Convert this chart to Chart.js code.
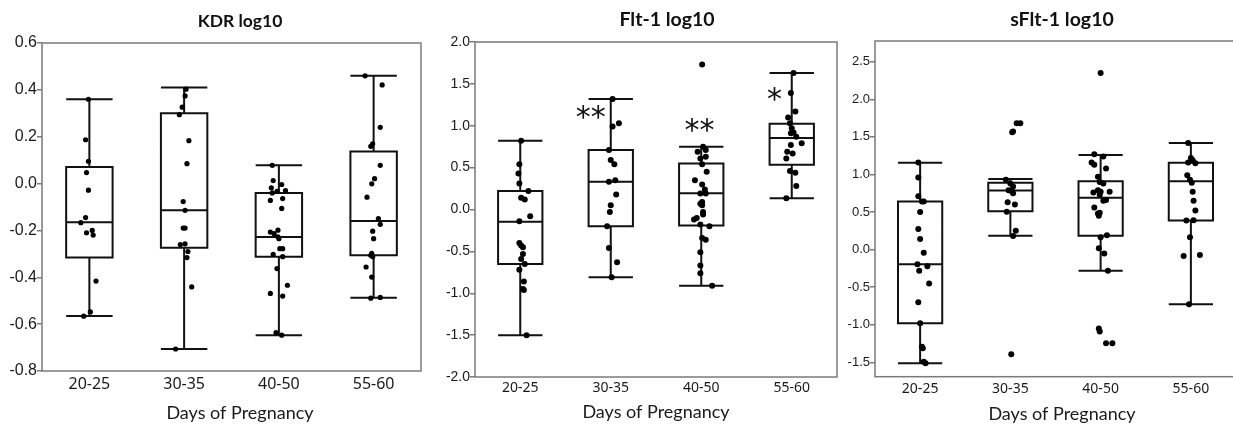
<!DOCTYPE html>
<html>
<head>
<meta charset="utf-8">
<script src="https://cdn.jsdelivr.net/npm/chart.js@4.4.1/dist/chart.umd.min.js"></script>
<style>
    html, body { margin: 0; padding: 0; background: #fff; }
    body { position: relative; width: 1233px; height: 426px; overflow: hidden; }
    canvas { position: absolute; top: 0; }
</style>
</head>
<body>
<canvas id="kdrChart" width="480" height="426" style="left:0px"></canvas>
<canvas id="fltChart" width="470" height="426" style="left:432px"></canvas>
<canvas id="sfltChart" width="454" height="426" style="left:835px"></canvas>
<script>
// Categorias (dias de gestação)
const categories = ['20-25', '30-35', '40-50', '55-60'];

// KDR log10
const kdrTicks = [-0.8, -0.6, -0.4, -0.2, 0, 0.2, 0.4, 0.6];
const kdrWhiskHi = [0.36, 0.41, 0.078, 0.46];
const kdrQ3 = [0.071, 0.30, -0.04, 0.137];
const kdrMedian = [-0.165, -0.114, -0.228, -0.16];
const kdrQ1 = [-0.316, -0.274, -0.312, -0.306];
const kdrWhiskLo = [-0.565, -0.706, -0.647, -0.487];
const kdrValues = [
    [0.36, 0.187, 0.095, 0.047, -0.028, -0.145, -0.167, -0.21, -0.20, -0.22, -0.416, -0.548, -0.566],
    [0.403, 0.374, 0.326, 0.294, 0.183, 0.085, -0.077, -0.114, -0.19, -0.19, -0.26, -0.257, -0.29, -0.316, -0.441, -0.706],
    [0.078, 0.013, -0.004, -0.018, -0.033, -0.03, -0.04, -0.072, -0.064, -0.106, -0.207, -0.214, -0.199, -0.227, -0.235, -0.278, -0.278, -0.302, -0.312, -0.363, -0.434, -0.469, -0.48, -0.636, -0.647],
    [0.46, 0.421, 0.24, 0.17, 0.159, 0.078, 0.021, -0.001, -0.058, -0.149, -0.174, -0.203, -0.235, -0.298, -0.306, -0.312, -0.356, -0.399, -0.489, -0.486]
];
const kdrJitter = [
    [-0.01, -0.04, -0.01, -0.03, -0.01, -0.04, -0.09, -0.03, 0.03, 0.04, 0.07, 0.01, -0.06],
    [0.02, 0.01, -0.02, -0.05, 0.05, 0.03, -0.01, 0.01, -0.01, 0.01, -0.04, 0.01, 0.04, 0.03, 0.08, -0.09],
    [-0.07, -0.06, 0.03, -0.08, -0.02, 0.07, -0.07, -0.09, 0.04, 0.03, -0.09, -0.05, -0.01, -0.01, 0, 0.01, 0.04, -0.06, 0.04, -0.02, 0.09, -0.09, 0.04, -0.03, 0.03],
    [-0.09, 0.09, 0.07, -0.01, -0.03, 0.07, 0.01, -0.02, -0.07, 0.05, 0.07, -0.01, 0, -0.02, -0.03, -0.01, -0.08, -0.02, -0.03, 0.07]
];

// Flt-1 log10
const fltTicks = [-2, -1.5, -1, -0.5, 0, 0.5, 1, 1.5, 2];
const fltWhiskHi = [0.82, 1.32, 0.75, 1.63];
const fltQ3 = [0.22, 0.71, 0.55, 1.025];
const fltMedian = [-0.145, 0.33, 0.195, 0.855];
const fltQ1 = [-0.65, -0.20, -0.19, 0.535];
const fltWhiskLo = [-1.50, -0.81, -0.91, 0.135];
const fltValues = [
    [0.82, 0.54, 0.43, 0.31, 0.22, 0.14, 0.12, -0.08, -0.14, -0.40, -0.43, -0.45, -0.53, -0.59, -0.65, -0.72, -0.86, -0.95, -0.96, -1.50],
    [1.32, 1.03, 0.99, 0.71, 0.59, 0.54, 0.33, 0.35, 0.18, 0.05, -0.03, -0.20, -0.46, -0.63, -0.81],
    [1.73, 0.75, 0.71, 0.69, 0.63, 0.61, 0.54, 0.45, 0.35, 0.30, 0.24, 0.19, 0.19, 0.09, 0.07, 0.05, -0.03, -0.06, -0.10, -0.12, -0.18, -0.20, -0.34, -0.36, -0.51, -0.67, -0.76, -0.91],
    [1.63, 1.39, 1.17, 1.10, 1.03, 0.97, 0.92, 0.91, 0.87, 0.79, 0.77, 0.69, 0.67, 0.61, 0.46, 0.44, 0.28, 0.135]
];
const fltJitter = [
    [0.01, -0.01, -0.02, -0.01, 0.09, 0.01, 0.05, 0.11, -0.01, -0.01, 0.01, 0.03, 0.03, 0.01, 0.05, -0.01, 0.04, 0.03, 0.04, 0.07],
    [0.02, 0.09, 0.02, -0.02, 0, 0.04, -0.02, 0.05, 0.06, 0, -0.01, -0.04, -0.02, 0.07, 0.01],
    [0.01, 0.02, 0.05, -0.04, 0.05, -0.01, 0.01, 0.06, -0.07, 0.01, 0.04, -0.01, 0.05, 0.01, -0.01, 0.01, 0.02, 0.02, -0.05, -0.08, -0.01, 0.09, 0.01, 0.05, -0.01, -0.01, -0.01, 0.12],
    [0.02, -0.01, 0.04, -0.04, -0.02, 0, 0.02, -0.01, 0.05, 0.11, -0.01, -0.05, 0.01, -0.06, -0.02, 0.04, 0.05, -0.06]
];
// Marcas de significância
const fltStars = ['', '**', '**', '*'];
const fltStarY = [null, 1.15, 1.0, 1.37];
const fltStarShift = [0, -0.22, -0.02, -0.19];

// sFlt-1 log10
const sfltTicks = [-1.5, -1, -0.5, 0, 0.5, 1, 1.5, 2, 2.5];
const sfltWhiskHi = [1.157, 0.94, 1.26, 1.42];
const sfltQ3 = [0.64, 0.89, 0.91, 1.157];
const sfltMedian = [-0.195, 0.785, 0.69, 0.91];
const sfltQ1 = [-0.98, 0.51, 0.186, 0.386];
const sfltWhiskLo = [-1.51, 0.186, -0.28, -0.726];
const sfltValues = [
    [1.16, 0.96, 0.71, 0.64, 0.64, 0.50, 0.275, 0.14, -0.04, -0.195, -0.28, -0.22, -0.45, -0.70, -0.98, -1.29, -1.31, -1.49, -1.51],
    [1.68, 1.68, 1.57, 1.56, 0.93, 0.88, 0.84, 0.79, 0.77, 0.75, 0.63, 0.60, 0.505, 0.25, 0.18, -1.39],
    [2.35, 1.27, 1.24, 1.16, 1.13, 1.08, 0.97, 0.90, 0.88, 0.79, 0.77, 0.77, 0.76, 0.73, 0.65, 0.66, 0.56, 0.49, 0.45, 0.48, 0.19, 0.165, 0.02, -0.05, -0.28, -1.05, -1.09, -1.245, -1.245],
    [1.42, 1.22, 1.19, 1.15, 1.16, 0.99, 0.93, 0.89, 0.77, 0.65, 0.52, 0.39, 0.386, 0.165, -0.085, -0.07, -0.726]
];
const sfltJitter = [
    [-0.02, -0.02, -0.02, 0.02, 0.04, 0, -0.02, 0, 0.04, -0.03, -0.01, 0.08, 0.10, -0.02, 0, 0.02, 0.03, 0.04, 0.06],
    [0.07, 0.11, 0.03, 0.02, -0.05, 0, 0.03, -0.02, 0.02, 0.03, -0.03, 0.05, -0.04, 0.06, 0.03, 0.01],
    [0, -0.07, 0.03, -0.10, -0.07, 0.06, -0.03, -0.01, 0.03, -0.03, 0, 0.10, -0.08, -0.01, 0.03, 0.06, -0.07, -0.01, -0.02, -0.03, 0.07, 0, -0.02, 0.04, 0.08, -0.02, -0.01, 0.06, 0.13],
    [-0.03, 0, 0.02, 0.05, -0.03, -0.04, -0.01, 0.01, 0.02, 0.03, 0.05, 0.03, -0.05, -0.01, -0.08, 0.10, -0.02]
];

const FRAME_COLOR = '#7a7a7a';
const TEXT_COLOR = '#1a1a1a';

// Moldura em volta da área do gráfico
const framePlugin = {
    id: 'frame',
    afterDraw(chart) {
        const {ctx, chartArea: a} = chart;
        ctx.save();
        ctx.strokeStyle = FRAME_COLOR;
        ctx.lineWidth = 1.5;
        ctx.strokeRect(a.left, a.top, a.right - a.left, a.bottom - a.top);
        ctx.restore();
    }
};

// Asteriscos de significância
const starPlugin = {
    id: 'stars',
    afterDatasetsDraw(chart, args, opts) {
        if (!opts.labels) return;
        const {ctx, scales} = chart;
        ctx.save();
        ctx.fillStyle = '#111';
        ctx.font = opts.size + 'px "DejaVu Sans"';
        ctx.textAlign = 'center';
        ctx.textBaseline = 'middle';
        opts.labels.forEach((txt, i) => {
            if (!txt) return;
            const x = scales.x.getPixelForValue(i + 1 + opts.shift[i]);
            const y = scales.y.getPixelForValue(opts.ys[i]);
            ctx.fillText(txt, x, y + opts.size * 0.2);
        });
        ctx.restore();
    }
};

// Montar linhas do boxplot (caixa, mediana, bigodes)
function boxLines(q1, q3, med, lo, hi, half) {
    const pts = [];
    categories.forEach((c, i) => {
        const x = i + 1;
        pts.push({x: x, y: q1[i]}, {x: x + half, y: q1[i]}, {x: x + half, y: q3[i]},
                 {x: x - half, y: q3[i]}, {x: x - half, y: q1[i]}, {x: x, y: q1[i]}, {x: x, y: lo[i]}, {x: x, y: null});
        pts.push({x: x - half, y: med[i]}, {x: x + half, y: med[i]}, {x: x, y: null});
        pts.push({x: x, y: q3[i]}, {x: x, y: hi[i]}, {x: x, y: null});
        pts.push({x: x - half, y: hi[i]}, {x: x + half, y: hi[i]}, {x: x, y: null});
        pts.push({x: x - half, y: lo[i]}, {x: x + half, y: lo[i]}, {x: x, y: null});
    });
    return pts;
}

function jitterPoints(values, jitter) {
    const pts = [];
    values.forEach((grp, i) => {
        grp.forEach((v, j) => pts.push({x: i + 1 + jitter[i][j], y: v}));
    });
    return pts;
}

function makeChart(id, cfg) {
    const H = 426;
    const tSize = cfg.titleSize;
    const xtSize = 18;
    const subtitle = {display: false};
    let xTitle = {display: false};
    let xHeight;
    if (cfg.xTitleOnScale) {
        xHeight = H - cfg.areaBottom;
        xTitle = {
            display: true, text: 'Days of Pregnancy', color: TEXT_COLOR,
            font: {family: 'Lato', size: xtSize},
            padding: {top: 0, bottom: H - cfg.xTitleMid - xtSize * 0.6}
        };
    } else {
        const pb = H - cfg.xTitleMid - xtSize * 0.6;
        Object.assign(subtitle, {
            display: true, position: 'bottom', text: 'Days of Pregnancy', color: TEXT_COLOR,
            font: {family: 'Lato', size: xtSize, weight: 'normal'},
            padding: {top: 0, bottom: pb}
        });
        xHeight = H - cfg.areaBottom - (xtSize * 1.2 + pb);
    }

    return new Chart(document.getElementById(id), {
        type: 'scatter',
        data: {
            datasets: [
                {
                    data: jitterPoints(cfg.values, cfg.jitter),
                    pointRadius: cfg.dot,
                    pointHoverRadius: cfg.dot,
                    backgroundColor: '#000',
                    borderWidth: 0
                },
                {
                    type: 'line',
                    data: boxLines(cfg.q1, cfg.q3, cfg.median, cfg.lo, cfg.hi, 0.245),
                    borderColor: '#111',
                    borderWidth: 2,
                    pointRadius: 0,
                    spanGaps: false,
                    fill: false,
                    tension: 0
                }
            ]
        },
        options: {
            responsive: false,
            animation: false,
            events: [],
            layout: {padding: 0},
            plugins: {
                legend: {display: false},
                tooltip: {enabled: false},
                title: {
                    display: true, text: cfg.title, color: '#111',
                    font: {family: 'Lato', size: tSize, weight: 'bold'},
                    padding: {top: cfg.titleMid - tSize * 0.6, bottom: cfg.areaTop - cfg.titleMid - tSize * 0.6}
                },
                subtitle: subtitle,
                stars: cfg.stars || {}
            },
            scales: {
                x: {
                    type: 'linear', min: 0.5, max: 4.5,
                    afterFit: s => { s.height = xHeight; },
                    afterBuildTicks: s => { s.ticks = categories.map((c, i) => ({value: i + 1})); },
                    ticks: {
                        callback: v => categories[v - 1],
                        color: TEXT_COLOR,
                        font: {family: 'Noto Sans', size: cfg.xFont},
                        padding: cfg.xPad,
                        autoSkip: false, maxRotation: 0
                    },
                    grid: {display: false, drawTicks: false},
                    border: {display: false},
                    title: xTitle
                },
                y: {
                    min: cfg.min, max: cfg.max,
                    afterFit: s => { s.width = cfg.yWidth; },
                    afterBuildTicks: s => { s.ticks = cfg.ticks.map(v => ({value: v})); },
                    ticks: {
                        callback: v => v.toFixed(1),
                        color: TEXT_COLOR,
                        font: {family: 'Liberation Sans', size: cfg.yFont},
                        padding: 0
                    },
                    grid: {drawOnChartArea: false, drawTicks: true, tickLength: 5, color: FRAME_COLOR, lineWidth: 1.5},
                    border: {display: false}
                },
                // eixo vazio à direita, só para reservar espaço
                yRight: {
                    position: 'right',
                    afterFit: s => { s.width = cfg.padRight; },
                    ticks: {display: false},
                    grid: {display: false},
                    border: {display: false}
                }
            }
        },
        plugins: [framePlugin, starPlugin]
    });
}

document.addEventListener('DOMContentLoaded', () => {
    makeChart('kdrChart', {
        title: 'KDR log10', titleSize: 17.5, titleMid: 21, areaTop: 43, areaBottom: 371,
        xTitleMid: 413, xTitleOnScale: false,
        padRight: 59, yWidth: 42, yFont: 16, xFont: 16, xPad: 4, dot: 2.6,
        min: -0.8, max: 0.6, ticks: kdrTicks,
        values: kdrValues, jitter: kdrJitter,
        q1: kdrQ1, q3: kdrQ3, median: kdrMedian, lo: kdrWhiskLo, hi: kdrWhiskHi
    });
    makeChart('fltChart', {
        title: 'Flt-1 log10', titleSize: 19.5, titleMid: 19.5, areaTop: 42, areaBottom: 377,
        xTitleMid: 412, xTitleOnScale: true,
        padRight: 65, yWidth: 43, yFont: 14, xFont: 14, xPad: 3, dot: 3,
        min: -2, max: 2, ticks: fltTicks,
        values: fltValues, jitter: fltJitter,
        q1: fltQ1, q3: fltQ3, median: fltMedian, lo: fltWhiskLo, hi: fltWhiskHi,
        stars: {labels: fltStars, ys: fltStarY, shift: fltStarShift, size: 30}
    });
    makeChart('sfltChart', {
        title: 'sFlt-1 log10', titleSize: 19.5, titleMid: 19.5, areaTop: 41, areaBottom: 376.7,
        xTitleMid: 414, xTitleOnScale: false,
        padRight: 53, yWidth: 40, yFont: 13, xFont: 14, xPad: 4, dot: 3,
        min: -1.69, max: 2.775, ticks: sfltTicks,
        values: sfltValues, jitter: sfltJitter,
        q1: sfltQ1, q3: sfltQ3, median: sfltMedian, lo: sfltWhiskLo, hi: sfltWhiskHi
    });
});
</script>
</body>
</html>
